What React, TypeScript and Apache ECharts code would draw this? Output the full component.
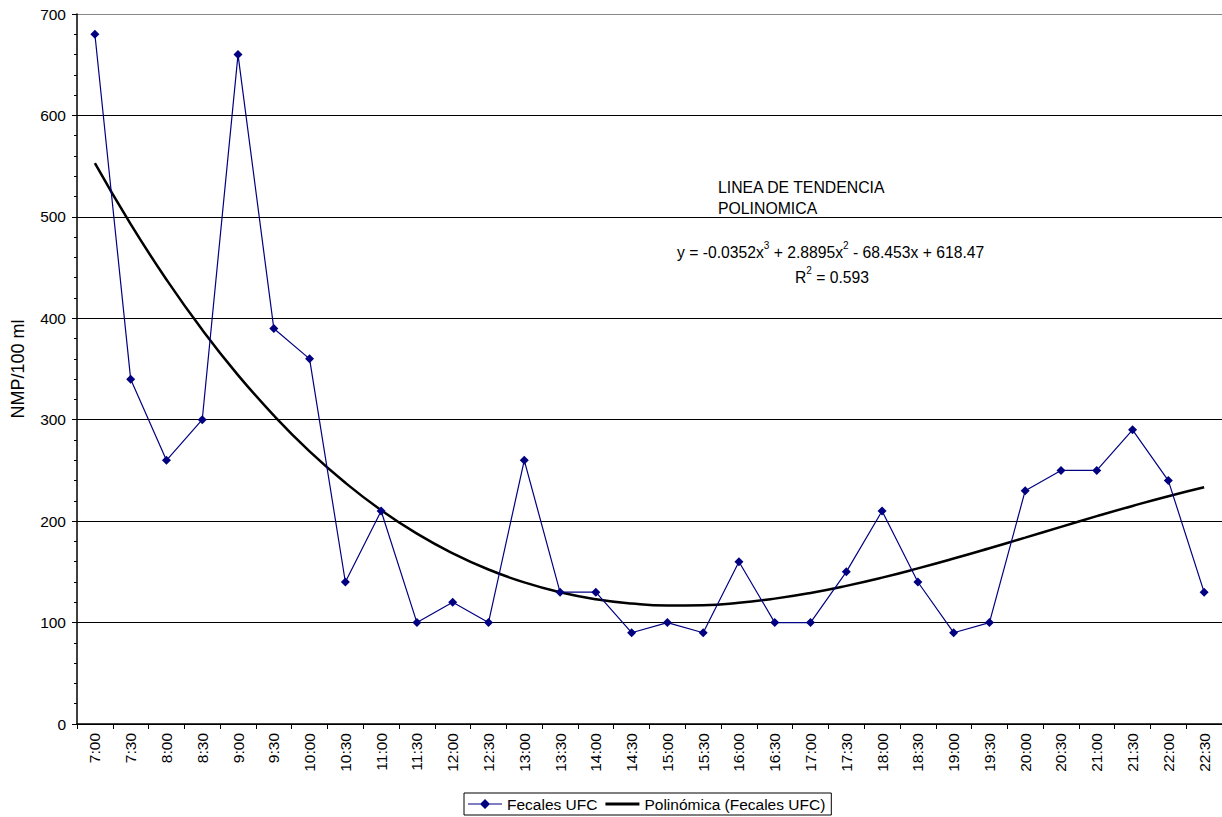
import React, { useEffect, useRef } from "react";
import * as echarts from "echarts";

const categories = [
  "7:00", "7:30", "8:00", "8:30", "9:00", "9:30", "10:00", "10:30",
  "11:00", "11:30", "12:00", "12:30", "13:00", "13:30", "14:00", "14:30",
  "15:00", "15:30", "16:00", "16:30", "17:00", "17:30", "18:00", "18:30",
  "19:00", "19:30", "20:00", "20:30", "21:00", "21:30", "22:00", "22:30",
];

const fecalesUFC = [
  680, 340, 260, 300, 660, 390, 360, 140,
  210, 100, 120, 100, 260, 130, 130, 90,
  100, 90, 160, 100, 100, 150, 210, 140,
  90, 100, 230, 250, 250, 290, 240, 130,
];

const polinomica = [
  552.9, 492.8, 438.2, 388.6, 344.0, 304.2, 268.8, 237.8,
  210.8, 187.7, 168.3, 152.3, 139.6, 129.9, 123.0, 118.8,
  116.9, 117.2, 119.5, 123.6, 129.2, 136.2, 144.3, 153.4,
  163.1, 173.3, 183.8, 194.4, 204.9, 215.0, 224.6, 233.4,
];

const yTicks = [0, 100, 200, 300, 400, 500, 600, 700];

export default function App() {
  const ref = useRef<HTMLDivElement>(null);
  useEffect(() => {
    if (!ref.current) return;
    const chart = echarts.init(ref.current, undefined, { renderer: "svg" });
    const font = "Liberation Sans, Arial, sans-serif";
    const rich = {
      n: { fontSize: 15.7, fontFamily: font, color: "#000", verticalAlign: "bottom", lineHeight: 20 },
      s: { fontSize: 10, fontFamily: font, color: "#000", verticalAlign: "top", lineHeight: 20 },
    };
    chart.setOption({
      animation: false,
      backgroundColor: "#ffffff",
      textStyle: { fontFamily: font },
      grid: { left: 77, right: 0, top: 14, bottom: 93, containLabel: false },
      xAxis: {
        type: "category",
        data: categories,
        boundaryGap: true,
        axisLine: { show: true, lineStyle: { color: "#000", width: 1.5 } },
        axisTick: { show: true, alignWithLabel: false, length: 5, lineStyle: { color: "#000" } },
        axisLabel: { rotate: 90, fontSize: 15.5, color: "#000", margin: 9, fontFamily: font, interval: 0 },
        splitLine: { show: false },
      },
      yAxis: {
        type: "value",
        min: yTicks[0],
        max: yTicks[yTicks.length - 1],
        interval: 100,
        name: "NMP/100 ml",
        nameLocation: "middle",
        nameGap: 50,
        nameRotate: 90,
        nameTextStyle: { fontSize: 18, color: "#000", fontFamily: font },
        axisLine: { show: true, lineStyle: { color: "#000", width: 1.5 } },
        axisTick: { show: true, length: 5, lineStyle: { color: "#000" } },
        minorTick: { show: true, splitNumber: 5, length: 3, lineStyle: { color: "#000" } },
        axisLabel: { fontSize: 15.5, color: "#000", margin: 11, fontFamily: font },
        splitLine: {
          show: true,
          lineStyle: { color: ["#000", "#000", "#000", "#000", "#000", "#000", "#000", "#888"], width: 1 },
        },
      },
      legend: {
        bottom: 2,
        left: 464,
        borderColor: "#000",
        borderWidth: 1,
        borderRadius: 0,
        padding: [3, 6, 3, 4],
        itemGap: 8,
        itemWidth: 34,
        itemHeight: 10,
        textStyle: { fontSize: 15.5, color: "#000", fontFamily: font },
        data: [
          {
            name: "Fecales UFC",
            icon: "path://M0,4.4H34V5.6H0Z M17,0L22,5L17,10L12,5Z",
            itemStyle: { color: "#000080" },
          },
          {
            name: "Polinómica (Fecales UFC)",
            icon: "path://M0,3.6H34V6.4H0Z",
            itemStyle: { color: "#000" },
          },
        ],
      },
      series: [
        {
          name: "Fecales UFC",
          type: "line",
          data: fecalesUFC,
          symbol: "diamond",
          symbolSize: 9,
          itemStyle: { color: "#000080" },
          lineStyle: { color: "#000080", width: 1.2 },
          z: 3,
        },
        {
          name: "Polinómica (Fecales UFC)",
          type: "line",
          data: polinomica,
          smooth: true,
          symbol: "none",
          itemStyle: { color: "#000" },
          lineStyle: { color: "#000", width: 2.5 },
          z: 2,
        },
      ],
      graphic: [
        {
          type: "text",
          left: 718,
          top: 177,
          style: {
            text: "LINEA DE TENDENCIA\nPOLINOMICA",
            font: `15.8px ${font}`,
            fill: "#000",
            lineHeight: 21,
          },
        },
        {
          type: "text",
          left: 677,
          top: 240,
          style: {
            text: "{n|y = -0.0352x}{s|3}{n| + 2.8895x}{s|2}{n| - 68.453x + 618.47}",
            fill: "#000",
            rich,
          },
        },
        {
          type: "text",
          left: 795,
          top: 265,
          style: {
            text: "{n|R}{s|2}{n| = 0.593}",
            fill: "#000",
            rich,
          },
        },
      ],
    });
    return () => chart.dispose();
  }, []);
  return (
    <div
      ref={ref}
      style={{ position: "absolute", left: 0, top: 0, width: 1222, height: 817 }}
    />
  );
}
